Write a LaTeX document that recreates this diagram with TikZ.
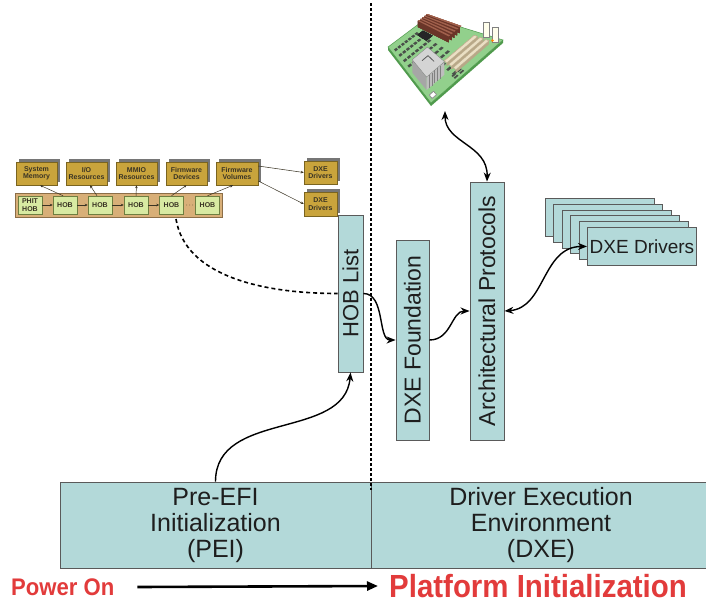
\documentclass[tikz,border=0pt]{standalone}
\usepackage{fontspec}
\setmainfont{Liberation Sans}
\newfontfamily\bannerfont{Liberation Sans}[FakeStretch=0.92]
\usetikzlibrary{arrows.meta,shadows}

\definecolor{tealfill}{HTML}{B3D9D9}
\definecolor{boxline}{HTML}{5A5A5A}
\definecolor{boxtext}{HTML}{1E1E1E}
\definecolor{gold}{HTML}{C9A43C}
\definecolor{goldline}{HTML}{7A6420}
\definecolor{shadowgray}{HTML}{767676}
\definecolor{band}{HTML}{D8AF78}
\definecolor{bandline}{HTML}{8C6E48}
\definecolor{hobgreen}{HTML}{D8EAA2}
\definecolor{hobline}{HTML}{6E7E40}
\definecolor{hobtext}{HTML}{3A3424}
\definecolor{banner}{HTML}{E23B3B}
\definecolor{pcb}{HTML}{92D08C}
\definecolor{pcbedge}{HTML}{4F9A4C}
\definecolor{ram}{HTML}{A0604C}
\definecolor{ramdark}{HTML}{6A3528}
\definecolor{slot}{HTML}{EADFC4}
\definecolor{slotdark}{HTML}{B8A888}
\definecolor{chip}{HTML}{4A4F4A}
\definecolor{sinktop}{HTML}{D4D4D4}
\definecolor{sinkside}{HTML}{A6A6A6}
\definecolor{sinkfront}{HTML}{BEBEBE}

% bilinear map of the board: s runs from the left corner to the top corner,
% t from the left corner to the bottom corner
\pgfmathdeclarefunction{mbx}{2}{\pgfmathparse{(1-#1)*(1-#2)*388+#1*(1-#2)*428+#1*#2*503+(1-#1)*#2*431}}
\pgfmathdeclarefunction{mby}{2}{\pgfmathparse{(1-#1)*(1-#2)*47+#1*(1-#2)*17+#1*#2*40+(1-#1)*#2*103}}
\newcommand\mbquad[5]{\filldraw[#5] ({mbx(#1,#2)},{mby(#1,#2)}) -- ({mbx(#3,#2)},{mby(#3,#2)}) -- ({mbx(#3,#4)},{mby(#3,#4)}) -- ({mbx(#1,#4)},{mby(#1,#4)}) -- cycle;}

\tikzset{
  tealbox/.style={draw=boxline, line width=0.9pt, fill=tealfill, inner sep=0pt, text=boxtext},
  goldbox/.style={draw=goldline, line width=0.5pt, fill=gold, minimum height=23pt,
    inner sep=0pt, align=center, text=hobtext,
    font=\bfseries\fontsize{7}{7.5}\selectfont,
    general shadow={fill=shadowgray, shadow xshift=3pt, shadow yshift=3.5pt}},
  hobbox/.style={draw=hobline, line width=0.5pt, fill=hobgreen, minimum height=18pt,
    minimum width=24pt, inner sep=0pt, align=center, text=hobtext,
    font=\bfseries\fontsize{7}{7.5}\selectfont},
  hobarrow/.style={draw=hobtext, line width=0.5pt, -{Stealth[length=3pt,width=2.6pt]}},
  flow/.style={line width=1.4pt, -{Stealth[length=9pt,width=7pt]}},
  flowboth/.style={line width=1.4pt, {Stealth[length=9pt,width=7pt]}-{Stealth[length=9pt,width=7pt]}},
  bigtext/.style={font=\fontsize{25}{26}\selectfont, align=center},
}

\begin{document}
\begin{tikzpicture}[x=1pt,y=-1pt]
\fill[white] (0,0) rectangle (706,605);
\useasboundingbox (0,0) rectangle (706,605);

% phase boxes
\node[tealbox, bigtext, minimum width=311, minimum height=86] (pei) at (215.5,525)
  {Pre-EFI\\Initialization\\(PEI)};
\node[tealbox, bigtext, minimum width=340, minimum height=86] (dxe) at (541,525)
  {Driver Execution\\Environment\\(DXE)};

% phase divider
\draw[line width=1.5pt, dash pattern=on 3pt off 2pt] (371,3) -- (371,490);

% DXE components
\node[tealbox, minimum width=25, minimum height=157] (hob) at (350.5,293.5) {};
\node[rotate=90, font=\fontsize{22}{22}\selectfont, text=boxtext] (hobtxt) at (hob.center) {HOB List};
\node[tealbox, minimum width=33, minimum height=200] (dxef) at (412.5,340) {};
\node[rotate=90, font=\fontsize{23}{23}\selectfont, text=boxtext] (dxeftxt) at (dxef.center) {DXE Foundation};
\node[tealbox, minimum width=34, minimum height=258] (arch) at (487,311) {};
\node[rotate=90, font=\fontsize{23}{23}\selectfont, text=boxtext] (archtxt) at (arch.center) {Architectural Protocols};

% stack of driver boxes
\foreach \i in {0,...,4}
  \node[tealbox, minimum width=109, minimum height=38, anchor=north west] (stack\i) at ({545+8.4*\i},{198+5.8*\i}) {};
\node[tealbox, minimum width=109, minimum height=38, anchor=north west,
      font=\fontsize{19}{19}\selectfont] (drv) at (587,227) {DXE Drivers};

% HOB list detail
\node[draw=bandline, line width=0.6pt, fill=band, minimum width=207, minimum height=24, inner sep=0pt] (band) at (118.5,205) {};
\node[goldbox, minimum width=41] (g1) at (36.5,173.5) {System\\Memory};
\node[goldbox, minimum width=41] (g2) at (86.5,173.5) {I/O\\Resources};
\node[goldbox, minimum width=41] (g3) at (136.5,173.5) {MMIO\\Resources};
\node[goldbox, minimum width=41] (g4) at (186.5,173.5) {Firmware\\Devices};
\node[goldbox, minimum width=42] (g5) at (237,173.5) {Firmware\\Volumes};
\node[goldbox, minimum width=33] (d1) at (320.5,172.5) {DXE\\Drivers};
\node[goldbox, minimum width=33, minimum height=24] (d2) at (320.5,204) {DXE\\Drivers};

\node[hobbox] (h0) at (30,205) {PHIT\\HOB};
\node[hobbox] (h1) at (65,205) {HOB};
\node[hobbox] (h2) at (100,205) {HOB};
\node[hobbox] (h3) at (136,205) {HOB};
\node[hobbox] (h4) at (171.5,205) {HOB};
\node[hobbox] (h5) at (207.5,205) {HOB};

\draw[hobarrow] (h0) -- (h1);
\draw[hobarrow] (h1) -- (h2);
\draw[hobarrow] (h2) -- (h3);
\draw[hobarrow] (h3) -- (h4);
\draw[hobtext, line width=0.9pt, line cap=round, dash pattern=on 0pt off 3pt, shorten <=3pt, shorten >=2pt] (h4.east) -- (h5.west);

\draw[hobarrow] ([xshift=-2pt]h1.north) -- ([xshift=3.5pt]g1.south);
\draw[hobarrow] ([xshift=-3pt]h2.north) -- ([xshift=3.5pt]g2.south);
\draw[hobarrow] (h3.north) -- (g3.south);
\draw[hobarrow] (h4.north) -- (g4.south);
\draw[hobarrow] (h5.north) -- ([xshift=-4pt]g5.south);
\draw[hobarrow] ([yshift=7.5pt]g5.east) -- (d1.west);
\draw[hobarrow] ([yshift=-7.5pt]g5.east) -- (d2.west);

% motherboard
\fill[pcbedge] (388,47) -- (431,103) -- (503,40) -- (503,43) -- (431,106) -- (388,50) -- cycle;
\filldraw[fill=pcb, draw=pcbedge, line width=0.5pt] (388,47) -- (428,17) -- (503,40) -- (431,103) -- cycle;
\foreach \s in {0.06,0.14,...,0.62}{
  \foreach \t in {0.08,0.18,...,0.88}{
    \pgfmathtruncatemacro\mbkeep{((\s<0.34)&&(\t>0.42)) || ((\s>0.38)&&(\t>0.62)) ? 0 : 1}
    \ifnum\mbkeep=1 \mbquad{\s}{\t}{\s+0.055}{\t+0.035}{fill=chip, draw=none}\fi
  }}
\foreach \t in {0.9,0.94}
  \foreach \s in {0.36,0.44}
    \mbquad{\s}{\t}{\s+0.05}{\t+0.025}{fill=chip, draw=none}
\mbquad{0.55}{0.12}{0.68}{0.27}{fill=black!85, draw=none}
\mbquad{0.04}{0.9}{0.1}{0.96}{fill=white, draw=gray}
% expansion slots
\foreach \t in {0.70,0.78,0.86}{
  \fill[slotdark] ({mbx(0.42,\t+0.045)},{mby(0.42,\t+0.045)}) -- ({mbx(0.9,\t+0.045)},{mby(0.9,\t+0.045)})
     -- ({mbx(0.9,\t+0.045)},{mby(0.9,\t+0.045)-3}) -- ({mbx(0.42,\t+0.045)},{mby(0.42,\t+0.045)-3}) -- cycle;
  \filldraw[fill=slot, draw=slotdark, line width=0.3pt] ({mbx(0.42,\t)},{mby(0.42,\t)-3}) -- ({mbx(0.9,\t)},{mby(0.9,\t)-3})
     -- ({mbx(0.9,\t+0.045)},{mby(0.9,\t+0.045)-3}) -- ({mbx(0.42,\t+0.045)},{mby(0.42,\t+0.045)-3}) -- cycle;
}
% memory modules
\foreach \s in {0.90,0.85,...,0.70}{
  \fill[ramdark] ({mbx(\s,0.03)},{mby(\s,0.03)}) -- ({mbx(\s,0.5)},{mby(\s,0.5)})
     -- ({mbx(\s,0.5)},{mby(\s,0.5)-6}) -- ({mbx(\s,0.03)},{mby(\s,0.03)-6}) -- cycle;
  \fill[ram] ({mbx(\s,0.03)},{mby(\s,0.03)-6}) -- ({mbx(\s+0.025,0.03)},{mby(\s+0.025,0.03)-6})
     -- ({mbx(\s+0.025,0.5)},{mby(\s+0.025,0.5)-6}) -- ({mbx(\s,0.5)},{mby(\s,0.5)-6}) -- cycle;
}
% connectors at the back edge
\filldraw[fill=white!92!yellow, draw=gray, line width=0.4pt] (483,22) rectangle (489,37);
\filldraw[fill=white!92!yellow, draw=gray, line width=0.4pt] (492,27) rectangle (498,42);
\fill[orange] (492.5,40.5) circle (1.3);
% processor heat sink
\fill[sinkside] ({mbx(0.05,0.5)},{mby(0.05,0.5)}) -- ({mbx(0.05,0.82)},{mby(0.05,0.82)})
   -- ({mbx(0.05,0.82)},{mby(0.05,0.82)-13}) -- ({mbx(0.05,0.5)},{mby(0.05,0.5)-13}) -- cycle;
\fill[sinkfront] ({mbx(0.05,0.82)},{mby(0.05,0.82)}) -- ({mbx(0.32,0.82)},{mby(0.32,0.82)})
   -- ({mbx(0.32,0.82)},{mby(0.32,0.82)-13}) -- ({mbx(0.05,0.82)},{mby(0.05,0.82)-13}) -- cycle;
\filldraw[fill=sinktop, draw=gray, line width=0.3pt] ({mbx(0.05,0.5)},{mby(0.05,0.5)-13}) -- ({mbx(0.32,0.5)},{mby(0.32,0.5)-13})
   -- ({mbx(0.32,0.82)},{mby(0.32,0.82)-13}) -- ({mbx(0.05,0.82)},{mby(0.05,0.82)-13}) -- cycle;
\foreach \s in {0.09,0.13,...,0.29}
  \draw[gray, line width=0.4pt] ({mbx(\s,0.82)},{mby(\s,0.82)}) -- ({mbx(\s,0.82)},{mby(\s,0.82)-13});
\draw[gray!70!black, line width=0.8pt] ({mbx(0.14,0.6)},{mby(0.14,0.6)-13}) -- ({mbx(0.24,0.6)},{mby(0.24,0.6)-13}) -- ({mbx(0.24,0.72)},{mby(0.24,0.72)-13});
\coordinate (mb) at (445,111);

% flows
\draw[flow] (pei.north) .. controls +(0,-72) and +(-5.5,68) .. (hob.south);
\draw[line width=1.6pt, dash pattern=on 4pt off 3pt] (176,219) .. controls (185,275) and (260,293.5) .. (hob.west);
\draw[flow] (hob.east) .. controls +(22,0) and +(-18,0) .. (dxef.west);
\draw[flow] (dxef.east) .. controls +(22,0) and +(-18,0) .. (arch.west);
\draw[flowboth] (mb) .. controls +(0,32) and +(1,-37) .. (arch.north);
\draw[flowboth] (arch.east) .. controls +(41,-3) and +(-45,0) .. (drv.west);

% banner
\node[font=\bannerfont\bfseries\fontsize{24}{24}\selectfont, text=banner, inner sep=0pt, anchor=west] (pwr) at (11,587) {Power On};
\node[font=\bannerfont\bfseries\fontsize{32}{32}\selectfont, text=banner, inner sep=0pt, anchor=west] (plat) at (389,586) {Platform Initialization};
\draw[line width=2.6pt, -{Triangle[length=11pt,width=9pt]}] ([xshift=23pt]pwr.east) -- ([xshift=-11pt]plat.west);
\end{tikzpicture}
\end{document}
